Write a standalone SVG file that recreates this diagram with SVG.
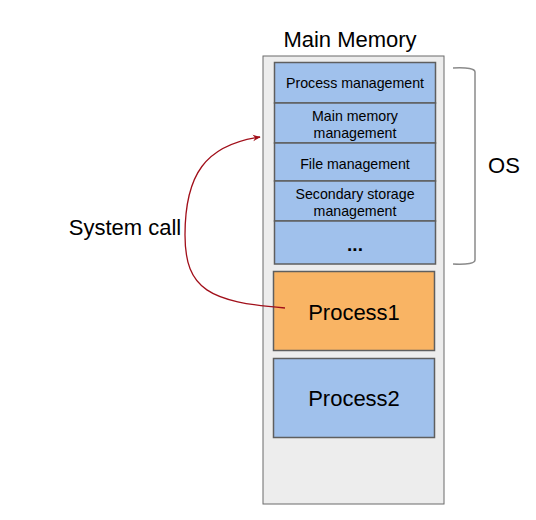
<svg xmlns="http://www.w3.org/2000/svg" width="536" height="520" viewBox="0 0 536 520">
<defs>
<style>
text{font-family:"Liberation Sans",Arial,sans-serif;fill:#000;text-anchor:middle}
.os{fill:#a0c1ec;stroke:#5f5f5f;stroke-width:1.5}
.big{font-size:22px}
.sm{font-size:14.2px}
</style>
<marker id="ah" viewBox="0 0 10 10" refX="9" refY="5" markerWidth="8" markerHeight="8" orient="auto" markerUnits="userSpaceOnUse">
<path d="M0,1 L10,5 L0,9 L3,5 Z" fill="#a10f1a"/>
</marker>
</defs>
<g id="memory">
<rect x="263" y="56" width="181" height="448" fill="#ededed" stroke="#6b6b6b" stroke-width="1"/>
<text class="big" x="350" y="47">Main Memory</text>
</g>
<g id="process-management"><rect class="os" x="274.5" y="62.5" width="161" height="40.5"/><text class="sm" x="355" y="88">Process management</text></g>
<g id="main-memory-management"><rect class="os" x="274.5" y="103" width="161" height="40"/><text class="sm" x="355" y="121">Main memory</text><text class="sm" x="355" y="138">management</text></g>
<g id="file-management"><rect class="os" x="274.5" y="143" width="161" height="38"/><text class="sm" x="355" y="169">File management</text></g>
<g id="secondary-storage"><rect class="os" x="274.5" y="181" width="161" height="40"/><text class="sm" x="355" y="199">Secondary storage</text><text class="sm" x="355" y="216">management</text></g>
<g id="more"><rect class="os" x="274.5" y="221" width="161" height="43"/><text x="355" y="251" style="font-size:19px;font-weight:bold">...</text></g>
<g id="process1"><rect x="273.5" y="271.5" width="161" height="79" fill="#f9b464" stroke="#5f5f5f" stroke-width="1.5"/><text class="big" x="354" y="320">Process1</text></g>
<g id="process2"><rect x="273.5" y="358.5" width="161" height="79" fill="#a0c1ec" stroke="#5f5f5f" stroke-width="1.5"/><text class="big" x="354" y="406">Process2</text></g>
<g id="os-bracket">
<path d="M453,68 Q475,67 475,72 L475,260 Q475,265 453,264" fill="none" stroke="#8a8a8a" stroke-width="1.5"/>
<text class="big" x="504" y="173">OS</text>
</g>
<g id="connectors">
<path d="M285,308 C210,302 185,290 185,235 C185,175 205,145 260,137" fill="none" stroke="#a10f1a" stroke-width="1.3" marker-end="url(#ah)"/>
<text class="big" x="125" y="235">System call</text>
</g>
</svg>
